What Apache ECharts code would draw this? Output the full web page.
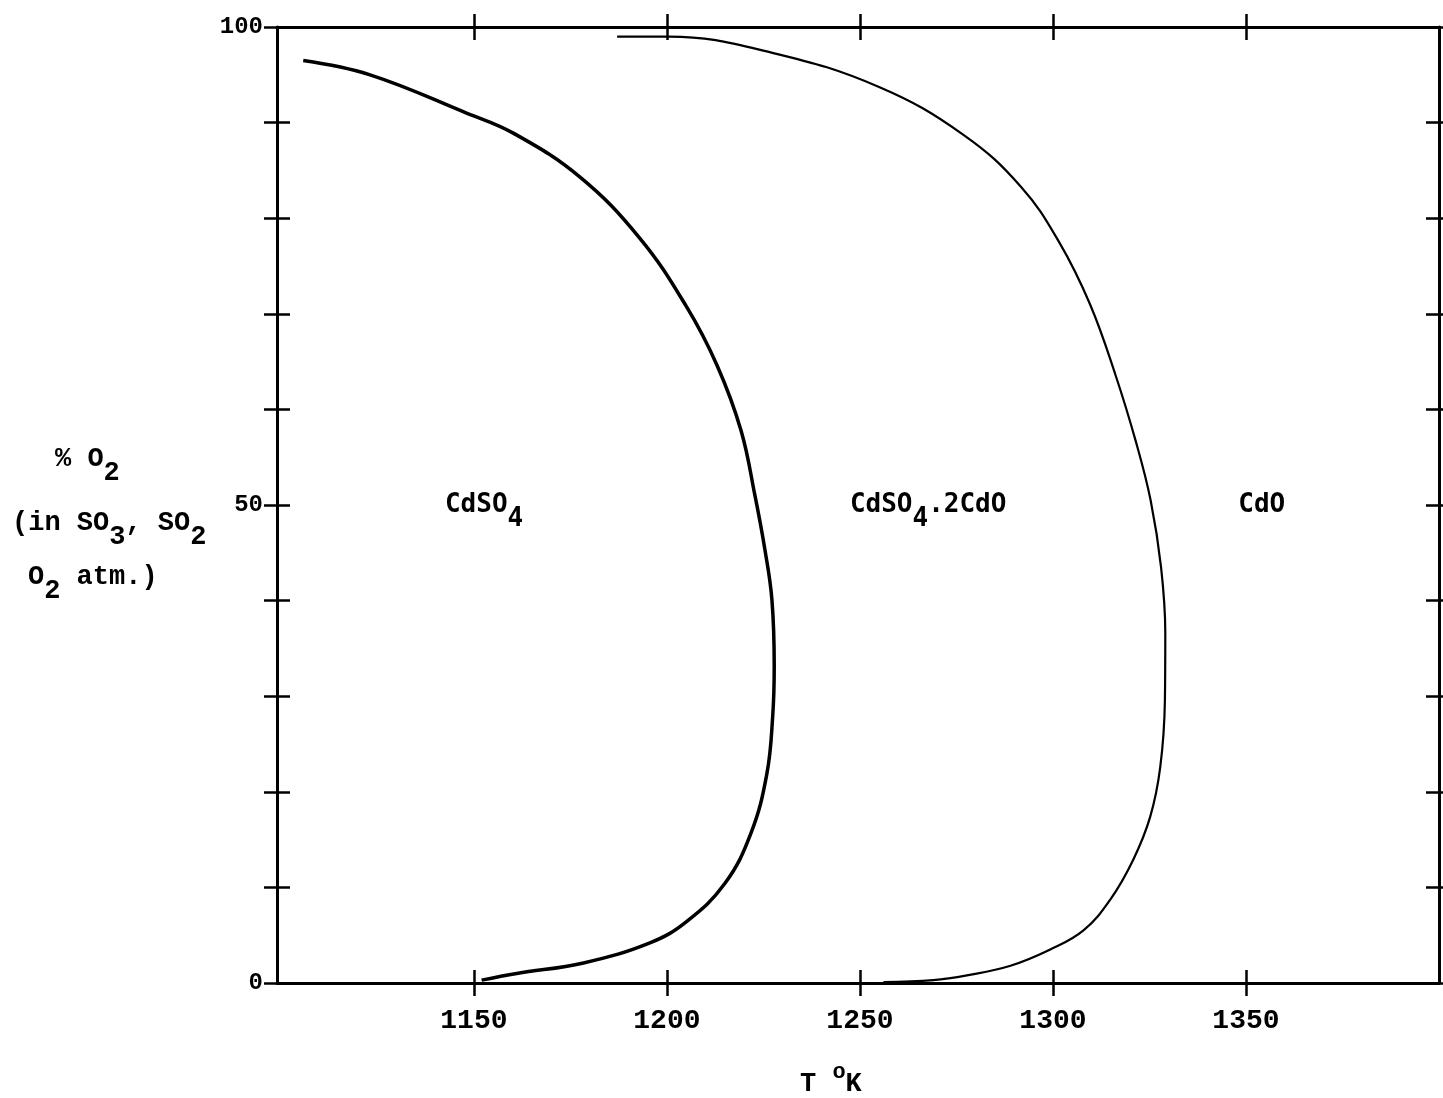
<!DOCTYPE html>
<html>
<head>
<meta charset="utf-8">
<script src="https://cdn.jsdelivr.net/npm/echarts@6/dist/echarts.min.js"></script>
<style>
html,body{margin:0;padding:0;background:#fff;}
#chart{width:1443px;height:1098px;}
</style>
</head>
<body>
<div id="chart"></div>
<script>
// ---- data (T in K, % O2) ----
const xMin = 1099;
const xMax = 1400;
const xTickValues = [1150, 1200, 1250, 1300, 1350];
const yTickInterval = 10;
const yLabelValues = [0, 50, 100];

// CdSO4 / CdSO4.2CdO boundary
const boundary1 = [
  [1105.8, 96.5], [1123.1, 95.0], [1148.1, 91.0], [1160.2, 88.9], [1177.5, 84.3],
  [1193.0, 77.9], [1205.0, 70.8], [1213.0, 64.6], [1219.2, 57.8], [1222.8, 51.0],
  [1225.4, 45.3], [1227.2, 40.1], [1227.8, 33.1], [1227.4, 27.9], [1225.9, 21.9],
  [1221.8, 15.7], [1215.0, 10.4], [1205.0, 6.4], [1195.6, 4.2], [1178.4, 2.1],
  [1161.1, 1.0], [1152.0, 0.3]
];
// CdSO4.2CdO / CdO boundary
const boundary2 = [
  [1187.1, 99.0], [1200.5, 99.0], [1227.3, 97.3], [1255.1, 93.7], [1276.9, 88.7],
  [1291.7, 83.3], [1301.6, 77.5], [1309.6, 71.0], [1316.2, 63.6], [1321.5, 56.6],
  [1325.3, 50.5], [1328.0, 43.5], [1329.1, 36.6], [1329.0, 29.6], [1327.8, 22.6],
  [1325.2, 17.4], [1320.8, 12.9], [1314.8, 8.7], [1307.9, 5.5], [1299.3, 3.5],
  [1289.0, 1.8], [1277.7, 0.8], [1269.0, 0.3], [1256.1, 0.1]
];
// region labels: [T, %O2, rich text]
const regionLabels = [
  [1142.5, 49.2, '{n|CdSO}{s|4}'],
  [1247.4, 49.2, '{n|CdSO}{s|4}{n|.2CdO}'],
  [1348.0, 49.2, '{n|CdO}']
];
const yTitleLines = ['{n|% O}{s|2}', '{n|(in SO}{s|3}{n|, SO}{s|2}', '{n|O}{s|2}{n| atm.)}'];
const xTitle = '{n|T }{p|o}{n|K}';

// ---- chart ----
const black = '#000';
const tickFont = '"Liberation Mono", "DejaVu Sans Mono", monospace';
const labelFont = '"DejaVu Sans Mono", monospace';

function xAx(position, inside, showLine, showLabel) {
  return {
    type: 'value', position: position, min: xMin, max: xMax,
    axisLine: { show: showLine, onZero: false, lineStyle: { color: black, width: 3 } },
    axisTick: { show: true, inside: inside, length: 13, customValues: xTickValues,
      lineStyle: { color: black, width: 2.5 } },
    axisLabel: { show: showLabel, customValues: xTickValues, margin: 24,
      formatter: function (v) { return String(v); },
      fontFamily: tickFont, fontSize: 28, fontWeight: 'bold', color: black },
    splitLine: { show: false }
  };
}
function yAx(position, inside, showLine, showLabel) {
  return {
    type: 'value', position: position, min: 0, max: 100, interval: yTickInterval,
    axisLine: { show: showLine, onZero: false, lineStyle: { color: black, width: 3 } },
    axisTick: { show: true, inside: inside, length: 13, lineStyle: { color: black, width: 2.5 } },
    axisLabel: { show: showLabel, customValues: yLabelValues, margin: 14,
      formatter: function (v) { return String(v); },
      fontFamily: tickFont, fontSize: 24, fontWeight: 'bold', color: black },
    splitLine: { show: false }
  };
}

const subRich = {
  n: { fontFamily: tickFont, fontSize: 27, fontWeight: 'bold', color: black, lineHeight: 28, padding: [0, 0, 14, 0] },
  s: { fontFamily: tickFont, fontSize: 27, fontWeight: 'bold', color: black, lineHeight: 28, padding: [14, 0, 0, 0] }
};
const regionRich = {
  n: { fontFamily: labelFont, fontSize: 26, fontWeight: 'bold', color: black, lineHeight: 28, padding: [0, 0, 14, 0] },
  s: { fontFamily: labelFont, fontSize: 26, fontWeight: 'bold', color: black, lineHeight: 28, padding: [14, 0, 0, 0] }
};

const chart = echarts.init(document.getElementById('chart'), null, { renderer: 'canvas' });
chart.setOption({
  backgroundColor: '#fff',
  animation: false,
  grid: { left: 277, right: 4, top: 27, bottom: 115, containLabel: false },
  xAxis: [
    xAx('bottom', true, true, true),
    xAx('bottom', false, false, false),
    xAx('top', true, true, false),
    xAx('top', false, false, false)
  ],
  yAxis: [
    yAx('left', true, true, true),
    yAx('left', false, false, false),
    yAx('right', true, true, false),
    yAx('right', false, false, false)
  ],
  series: [
    { type: 'line', data: boundary1, smooth: 0.4, showSymbol: false, symbol: 'none',
      lineStyle: { color: black, width: 3.5 }, xAxisIndex: 0, yAxisIndex: 0 },
    { type: 'line', data: boundary2, smooth: 0.4, showSymbol: false, symbol: 'none',
      lineStyle: { color: black, width: 2.2 }, xAxisIndex: 0, yAxisIndex: 0 },
    { type: 'scatter', data: regionLabels, symbolSize: 0, xAxisIndex: 0, yAxisIndex: 0,
      itemStyle: { color: black, opacity: 1 },
      label: { show: true, position: 'right', distance: 0, color: black, opacity: 1,
        formatter: function (p) { return p.data[2]; }, rich: regionRich } }
  ],
  graphic: [
    { type: 'text', left: 55, top: 446, style: { text: yTitleLines[0], rich: subRich, fill: black } },
    { type: 'text', left: 12, top: 510, style: { text: yTitleLines[1], rich: subRich, fill: black } },
    { type: 'text', left: 28, top: 564, style: { text: yTitleLines[2], rich: subRich, fill: black } },
    { type: 'text', left: 800, top: 1061, style: { text: xTitle, fill: black, rich: {
      n: { fontFamily: tickFont, fontSize: 27, fontWeight: 'bold', color: black, lineHeight: 28, padding: [8, 0, 0, 0] },
      p: { fontFamily: tickFont, fontSize: 22, fontWeight: 'bold', color: black, lineHeight: 20, padding: [0, 0, 16, 0] }
    } } }
  ]
});
</script>
</body>
</html>
